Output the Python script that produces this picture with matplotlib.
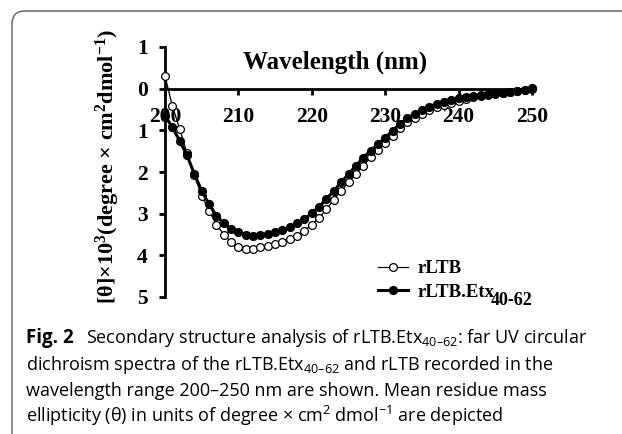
import matplotlib
matplotlib.use("Agg")
import matplotlib.pyplot as plt
from matplotlib.patches import FancyBboxPatch
import numpy as np

plt.rcParams['mathtext.default'] = 'regular'

# wavelength (nm) and mean residue ellipticity ([θ] x 10^3)
wavelength = list(range(200, 251))
rltb = [0.30, -0.41, -0.97, -1.55, -2.08, -2.57, -2.93, -3.26, -3.50, -3.68,
        -3.80, -3.85, -3.85, -3.81, -3.77, -3.72, -3.67, -3.61, -3.53, -3.41,
        -3.26, -3.10, -2.89, -2.67, -2.45, -2.25, -2.05, -1.85, -1.65, -1.47,
        -1.31, -1.13, -0.95, -0.81, -0.70, -0.60, -0.52, -0.45, -0.39, -0.34,
        -0.29, -0.24, -0.20, -0.17, -0.14, -0.12, -0.10, -0.08, -0.06, -0.03,
        0.00]
rltb_etx = [-0.65, -0.93, -1.25, -1.60, -2.05, -2.45, -2.77, -3.05, -3.23, -3.37,
            -3.45, -3.50, -3.53, -3.51, -3.49, -3.45, -3.39, -3.33, -3.23, -3.13,
            -2.99, -2.83, -2.65, -2.45, -2.25, -2.05, -1.85, -1.66, -1.49, -1.33,
            -1.18, -1.01, -0.85, -0.71, -0.61, -0.51, -0.43, -0.37, -0.31, -0.26,
            -0.22, -0.19, -0.17, -0.15, -0.13, -0.11, -0.10, -0.07, -0.05, -0.02,
            0.02]
xticks = [200, 210, 220, 230, 240, 250]
yticks = [1, 0, -1, -2, -3, -4, -5]
ytick_labels = ['1', '0', '1', '2', '3', '4', '5']

W, H = 622, 434
fig = plt.figure(figsize=(W / 100, H / 100), dpi=100)

# rounded frame around figure + caption
box = FancyBboxPatch((0.12, -1.0), 8.0, 4.34 - 0.11 + 1.0,
                     boxstyle="round,pad=0,rounding_size=0.13",
                     transform=fig.dpi_scale_trans, facecolor='none',
                     edgecolor='#6a6a6a', linewidth=1.1)
fig.patches.append(box)

ax = fig.add_axes([165 / W, 1 - 297 / H, (532 - 165) / W, (297 - 47) / H])
serif = dict(family='Liberation Serif', weight='bold')

ax.plot(wavelength, rltb, color='black', lw=0.9, marker='o', ms=5.6,
        mfc='white', mec='black', mew=0.9, clip_on=False, zorder=3, label='rLTB')
ax.plot(wavelength, rltb_etx, color='black', lw=2.2, marker='o', ms=5.6,
        mfc='black', mec='black', clip_on=False, zorder=4,
        label='rLTB.Etx')

ax.set_xlim(200, 250)
ax.set_ylim(-5, 1)
ax.spines['top'].set_visible(False)
ax.spines['right'].set_visible(False)
ax.spines['bottom'].set_position(('data', 0))
for s in ('left', 'bottom'):
    ax.spines[s].set_linewidth(2.0)

ax.set_xticks(xticks)
ax.set_xticklabels([str(t) for t in xticks], fontsize=15.5, **serif)
ax.set_yticks(yticks)
ax.set_yticklabels(ytick_labels, fontsize=15.5, **serif)
ax.tick_params(axis='x', direction='out', length=4.5, width=2, pad=9)
ax.tick_params(axis='y', direction='out', length=4.5, width=2, pad=8)

fig.text(335 / W, 1 - 62 / H, 'Wavelength (nm)', ha='center', va='center',
         fontsize=18, **serif)
fig.text(108 / W, 1 - 167 / H,
         '[θ]×10$^{3}$(degree × cm$^{2}$dmol$^{-1}$)', rotation=90,
         ha='center', va='center', fontsize=16, **serif)

leg = ax.legend(loc='upper left', bbox_to_anchor=(378 / W, 1 - 260 / H),
                bbox_transform=fig.transFigure, frameon=False, borderpad=0,
                borderaxespad=0, handlelength=1.6, handletextpad=0.5,
                labelspacing=0.35, prop=dict(family='Liberation Serif',
                                             weight='bold', size=13.5))

# large subscript after the second legend entry
fig.canvas.draw()
bb = leg.get_texts()[1].get_window_extent()
fig.text(bb.x1 - 4, bb.y0 - 4, '40-62', transform=None, ha='left',
         va='baseline', fontsize=13, **serif)

# caption
cap = dict(family='Open Sans', fontsize=13, va='baseline')
fig.text(26 / W, 1 - 343 / H, 'Fig. 2', weight='bold', fontsize=13.5,
         family='Open Sans', va='baseline')
fig.text(86 / W, 1 - 343 / H,
         'Secondary structure analysis of rLTB.Etx$_{40–62}$: far UV circular', **cap)
fig.text(26 / W, 1 - 369.5 / H,
         'dichroism spectra of the rLTB.Etx$_{40–62}$ and rLTB recorded in the', **cap)
fig.text(26 / W, 1 - 396 / H,
         'wavelength range 200–250 nm are shown. Mean residue mass', **cap)
fig.text(26 / W, 1 - 422 / H,
         'ellipticity (θ) in units of degree × cm$^{2}$ dmol$^{−1}$ are depicted', **cap)

fig.savefig('out.png', dpi=100)
